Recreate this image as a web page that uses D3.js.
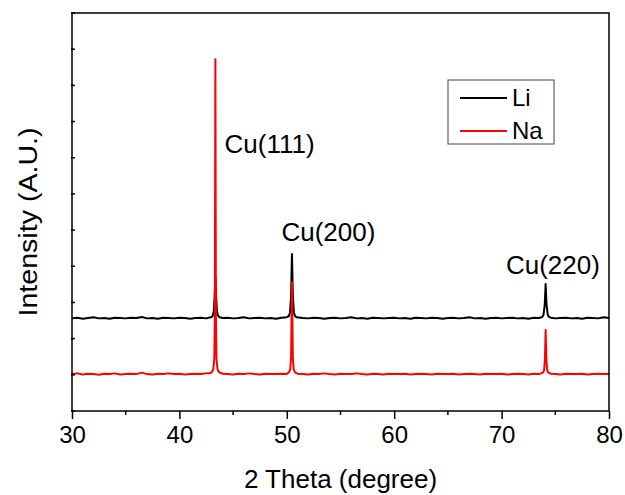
<!DOCTYPE html>
<html>
<head>
<meta charset="utf-8">
<script src="https://cdn.jsdelivr.net/npm/d3@7"></script>
<style>
  body { margin: 0; background: #fff; }
  text { font-family: "Liberation Sans", Arial, sans-serif; fill: #000; }
</style>
</head>
<body>
<div id="chart"></div>
<script>
// XRD patterns, [2theta, intensity]
const liData = [
  [30, 2.56], [30.5, 2.58], [31, 2.55], [31.5, 2.57], [32, 2.59], [32.5, 2.56], [33, 2.57],
  [33.5, 2.55], [34, 2.58], [34.5, 2.57], [35, 2.56], [35.5, 2.58], [36, 2.57], [36.5, 2.6],
  [37, 2.56], [37.5, 2.57], [38, 2.55], [38.5, 2.58], [39, 2.57], [39.5, 2.56], [40, 2.58],
  [40.5, 2.57], [41, 2.55], [41.5, 2.57], [42, 2.58], [42.5, 2.56], [43, 2.6],
  [43.1, 2.63], [43.2, 2.75], [43.27, 3.1], [43.35, 3.7], [43.43, 3.1], [43.5, 2.75], [43.6, 2.63], [43.75, 2.59],
  [44, 2.57], [44.5, 2.58], [45, 2.56], [45.5, 2.57], [46, 2.59], [46.5, 2.56], [47, 2.57],
  [47.5, 2.58], [48, 2.56], [48.5, 2.57], [49, 2.55], [49.5, 2.58], [50, 2.59],
  [50.2, 2.63], [50.3, 2.72], [50.4, 3.2], [50.48, 4.34], [50.56, 3.2], [50.66, 2.72], [50.76, 2.63], [50.9, 2.59],
  [51.5, 2.57], [52, 2.56], [52.5, 2.58], [53, 2.57], [53.5, 2.55], [54, 2.57], [54.5, 2.58],
  [55, 2.56], [55.5, 2.57], [56, 2.59], [56.5, 2.56], [57, 2.57], [57.5, 2.55], [58, 2.58],
  [58.5, 2.57], [59, 2.56], [59.5, 2.57], [60, 2.58], [60.5, 2.56], [61, 2.57], [61.5, 2.55],
  [62, 2.58], [62.5, 2.57], [63, 2.56], [63.5, 2.58], [64, 2.57], [64.5, 2.55], [65, 2.57],
  [65.5, 2.58], [66, 2.56], [66.5, 2.57], [67, 2.59], [67.5, 2.56], [68, 2.57], [68.5, 2.55],
  [69, 2.57], [69.5, 2.58], [70, 2.56], [70.5, 2.57], [71, 2.58], [71.5, 2.56], [72, 2.57],
  [72.5, 2.55], [73, 2.58], [73.5, 2.57], [73.8, 2.6],
  [73.9, 2.66], [74.02, 2.95], [74.1, 3.51], [74.18, 2.95], [74.3, 2.66], [74.4, 2.6], [74.6, 2.58],
  [75, 2.56], [75.5, 2.57], [76, 2.58], [76.5, 2.56], [77, 2.57], [77.5, 2.55], [78, 2.58],
  [78.5, 2.57], [79, 2.56], [79.5, 2.59], [80, 2.57]
];

const naData = [
  [30, 1.02], [30.5, 1.04], [31, 1.01], [31.5, 1.03], [32, 1.02], [32.5, 1.0], [33, 1.03],
  [33.5, 1.02], [34, 1.04], [34.5, 1.01], [35, 1.02], [35.5, 1.03], [36, 1.02], [36.5, 1.06],
  [37, 1.02], [37.5, 1.01], [38, 1.03], [38.5, 1.02], [39, 1.04], [39.5, 1.02], [40, 1.03],
  [40.5, 1.01], [41, 1.02], [41.5, 1.03], [42, 1.02], [42.5, 1.04], [42.8, 1.04],
  [43.0, 1.07], [43.15, 1.15], [43.25, 1.45], [43.3, 2.6], [43.35, 9.72], [43.4, 2.6], [43.45, 1.45], [43.55, 1.15], [43.7, 1.07],
  [44, 1.03], [44.5, 1.02], [45, 1.01], [45.5, 1.03], [46, 1.02], [46.5, 1.04], [47, 1.02],
  [47.5, 1.01], [48, 1.03], [48.5, 1.02], [49, 1.02], [49.5, 1.03], [50, 1.02],
  [50.2, 1.07], [50.32, 1.15], [50.4, 1.5], [50.48, 3.56], [50.56, 1.5], [50.64, 1.15], [50.76, 1.07],
  [51, 1.03], [51.5, 1.02], [52, 1.01], [52.5, 1.03], [53, 1.02], [53.5, 1.04], [54, 1.02],
  [54.5, 1.01], [55, 1.03], [55.5, 1.02], [56, 1.02], [56.5, 1.04], [57, 1.02], [57.5, 1.01],
  [58, 1.03], [58.5, 1.02], [59, 1.01], [59.5, 1.03], [60, 1.02], [60.5, 1.02], [61, 1.03],
  [61.5, 1.01], [62, 1.02], [62.5, 1.03], [63, 1.02], [63.5, 1.01], [64, 1.03], [64.5, 1.02],
  [65, 1.02], [65.5, 1.03], [66, 1.01], [66.5, 1.02], [67, 1.03], [67.5, 1.02], [68, 1.01],
  [68.5, 1.03], [69, 1.02], [69.5, 1.02], [70, 1.03], [70.5, 1.01], [71, 1.02], [71.5, 1.03],
  [72, 1.02], [72.5, 1.01], [73, 1.03], [73.5, 1.02],
  [73.85, 1.06], [73.95, 1.12], [74.03, 1.4], [74.1, 2.24], [74.17, 1.4], [74.25, 1.12], [74.35, 1.06],
  [74.6, 1.03], [75, 1.02], [75.5, 1.01], [76, 1.03], [76.5, 1.02], [77, 1.02], [77.5, 1.03],
  [78, 1.01], [78.5, 1.02], [79, 1.03], [79.5, 1.02], [80, 1.02]
];

const xTicks = [30, 40, 50, 60, 70, 80];
const xMinorTicks = [35, 45, 55, 65, 75];
const yTicks = [0, 1, 2, 3, 4, 5, 6, 7, 8, 9, 10, 11];

const peakLabels = [
  { text: "Cu(111)", x: 44.2, y: 7.12 },
  { text: "Cu(200)", x: 49.5, y: 4.7 },
  { text: "Cu(220)", x: 70.4, y: 3.8 }
];

const seriesNames = ["Li", "Na"];
const seriesColors = ["#000000", "#ff0000"];

const W = 625, H = 495;
const margin = { top: 13, right: 16, bottom: 84, left: 72 };
const width = W - margin.left - margin.right,
  height = H - margin.top - margin.bottom;

const svg = d3.select("#chart")
  .append("svg")
  .attr("width", W)
  .attr("height", H)
  .append("g")
  .attr("transform", `translate(${margin.left}, ${margin.top})`);

const x = d3.scaleLinear().domain([30, 80]).range([0, width]);
const y = d3.scaleLinear().domain([0, 11]).range([height, 0]);

// lines
const line = d3.line()
  .x(d => x(d[0]))
  .y(d => y(d[1]));

[liData, naData].forEach((data, i) => {
  svg.append("path")
    .datum(data)
    .attr("fill", "none")
    .attr("stroke", seriesColors[i])
    .attr("stroke-width", 2)
    .attr("stroke-linejoin", "round")
    .attr("d", line);
});

// frame
svg.append("rect")
  .attr("width", width)
  .attr("height", height)
  .attr("fill", "none")
  .attr("stroke", "#000")
  .attr("stroke-width", 1.5);

// x axis, major + minor ticks pointing out
const xAxis = svg.append("g")
  .attr("transform", `translate(0, ${height})`)
  .call(d3.axisBottom(x).tickValues(xTicks).tickSize(8).tickPadding(7).tickFormat(d3.format("d")));
xAxis.select(".domain").remove();
xAxis.selectAll("line").attr("stroke-width", 1.5);
xAxis.selectAll("text").style("font-size", "24px").attr("font-family", null);

svg.append("g")
  .attr("transform", `translate(0, ${height})`)
  .selectAll("line")
  .data(xMinorTicks)
  .join("line")
  .attr("x1", d => x(d)).attr("x2", d => x(d))
  .attr("y1", 0).attr("y2", 4)
  .attr("stroke", "#000")
  .attr("stroke-width", 1.5);

// y axis: ticks only, no labels
svg.append("g")
  .selectAll("line")
  .data(yTicks)
  .join("line")
  .attr("x1", -1).attr("x2", 3)
  .attr("y1", d => y(d)).attr("y2", d => y(d))
  .attr("stroke", "#000")
  .attr("stroke-width", 1.5);

// axis titles
svg.append("text")
  .attr("x", width / 2)
  .attr("y", height + 77)
  .attr("text-anchor", "middle")
  .style("font-size", "26px")
  .text("2 Theta (degree)");

svg.append("text")
  .attr("transform", `translate(${37 - margin.left}, ${222 - margin.top}) rotate(-90)`)
  .attr("text-anchor", "middle")
  .attr("textLength", 189)
  .attr("lengthAdjust", "spacingAndGlyphs")
  .style("font-size", "26px")
  .text("Intensity (A.U.)");

// peak labels
svg.selectAll(".peak")
  .data(peakLabels)
  .join("text")
  .attr("class", "peak")
  .attr("x", d => x(d.x))
  .attr("y", d => y(d.y))
  .style("font-size", "26px")
  .text(d => d.text);

// legend
const legend = svg.append("g")
  .attr("transform", `translate(${448 - margin.left}, ${80 - margin.top})`);
legend.append("rect")
  .attr("width", 106)
  .attr("height", 64)
  .attr("fill", "#fff")
  .attr("stroke", "#444")
  .attr("stroke-width", 1);
seriesNames.forEach((name, i) => {
  const gy = 18 + i * 33;
  legend.append("line")
    .attr("x1", 12).attr("x2", 59)
    .attr("y1", gy).attr("y2", gy)
    .attr("stroke", seriesColors[i])
    .attr("stroke-width", 1.8);
  legend.append("text")
    .attr("x", 64)
    .attr("y", gy + 8)
    .style("font-size", "24px")
    .text(name);
});
</script>
</body>
</html>
